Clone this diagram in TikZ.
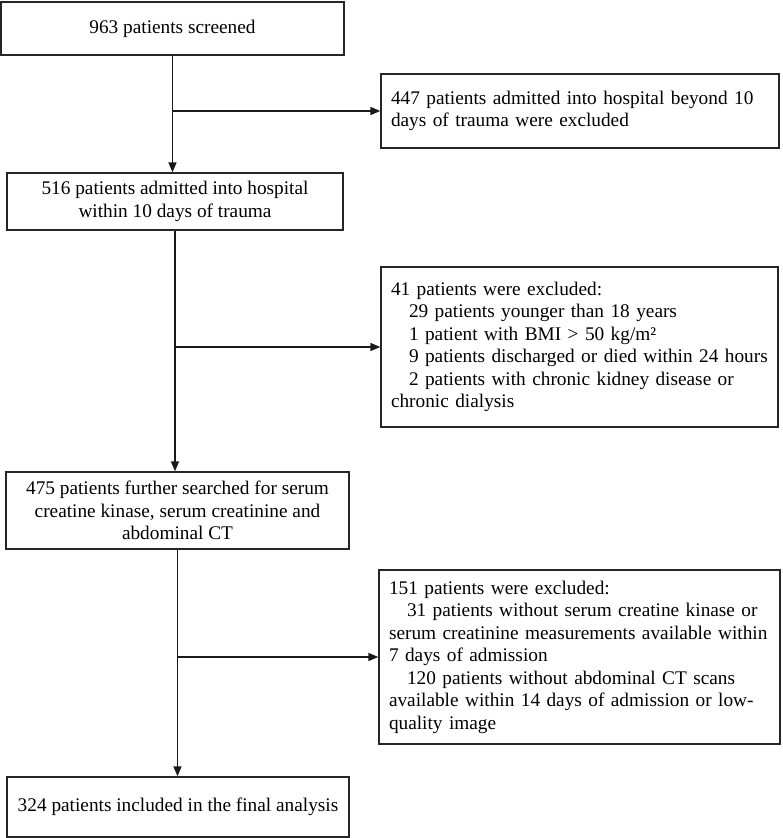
\documentclass[tikz,border=0pt]{standalone}
\usepackage{fontspec}
\setmainfont{Liberation Serif}
\usetikzlibrary{arrows.meta}
\begin{document}
\begin{tikzpicture}[x=1pt,y=-1pt,
  box/.style={draw=black!85,line width=1.3pt,inner sep=0pt,
    font=\fontsize{19.3}{22.5}\selectfont},
  mainbox/.style={box,align=center},
  exbox/.style={box,align=left,inner xsep=10pt},
  flow/.style={draw=black!90,line width=1.5pt,-{Triangle[length=10pt,width=8pt]}}]
\useasboundingbox (0,0) rectangle (783,838);
\node[mainbox,minimum width=343pt,minimum height=53pt] (b1) at (172.5,28.5) {963 patients screened};
\node[mainbox,minimum width=336pt,minimum height=57pt] (b2) at (175,201.5) {516 patients admitted into hospital\\within 10 days of trauma};
\node[mainbox,minimum width=343pt,minimum height=77pt] (b3) at (177.5,510.5) {475 patients further searched for serum\\creatine kinase, serum creatinine and\\abdominal CT};
\node[mainbox,minimum width=342pt,minimum height=60pt] (b4) at (178,807) {324 patients included in the final analysis};
\node[exbox,text width=378pt,minimum height=74pt] (e1) at (580,111) {447 patients admitted into hospital beyond 10\\days of trauma were excluded};
\node[exbox,text width=377pt,minimum height=160pt] (e2) at (579.5,347) {41 patients were excluded:\\
\hspace*{18pt}29 patients younger than 18 years\\
\hspace*{18pt}1 patient with BMI > 50 kg/m²\\
\hspace*{18pt}9 patients discharged or died within 24 hours\\
\hspace*{18pt}2 patients with chronic kidney disease or\\
chronic dialysis};
\node[exbox,text width=381pt,minimum height=174pt] (e3) at (579.5,657) {151 patients were excluded:\\
\hspace*{18pt}31 patients without serum creatine kinase or\\
serum creatinine measurements available within\\
7 days of admission\\
\hspace*{18pt}120 patients without abdominal CT scans\\
available within 14 days of admission or low-\\
quality image};
\draw[flow] (b1.south) -- (b1.south |- b2.north);
\draw[flow] (b1.south |- e1.west) -- (e1.west);
\draw[flow] (b2.south) -- (b2.south |- b3.north);
\draw[flow] (b2.south |- e2.west) -- (e2.west);
\draw[flow] (b3.south) -- (b3.south |- b4.north);
\draw[flow] (b3.south |- e3.west) -- (e3.west);
\end{tikzpicture}
\end{document}
